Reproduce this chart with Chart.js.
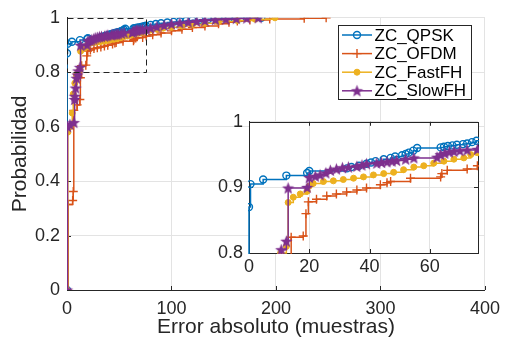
<!DOCTYPE html>
<html>
<head>
<meta charset="utf-8">
<script src="https://cdn.jsdelivr.net/npm/chart.js@4.4.1/dist/chart.umd.min.js"></script>
<style>
  html, body { margin: 0; padding: 0; background: #fff; }
  #wrap { position: relative; width: 508px; height: 343px; }
  #main { position: absolute; left: 0; top: 0; }
  #inset { position: absolute; left: 205px; top: 105px; }
</style>
</head>
<body>
<div id="wrap">
  <canvas id="main" width="508" height="343"></canvas>
  <canvas id="inset" width="290" height="175"></canvas>
</div>
<script>
// CDF of absolute error
var qpskX = [0, 0, 0.5, 4.7, 12.4, 19.3, 20, 32.5, 34, 36.5, 39, 40.5, 42, 44.7, 47, 48.5, 50.8, 52, 53, 54.5, 55.8, 63.6, 64.7, 66, 67.5, 69, 71, 72.4, 74, 75.5, 80, 85, 90, 96, 102, 108, 114, 120, 127, 135, 145, 155, 166, 186];
var qpskY = [0, 0.87, 0.905, 0.912, 0.918, 0.922, 0.925, 0.929, 0.931, 0.933, 0.936, 0.938, 0.94, 0.943, 0.945, 0.947, 0.949, 0.951, 0.953, 0.956, 0.96, 0.961, 0.962, 0.963, 0.964, 0.965, 0.966, 0.967, 0.969, 0.971, 0.974, 0.977, 0.98, 0.983, 0.985, 0.987, 0.989, 0.991, 0.993, 0.995, 0.997, 0.998, 0.999, 1];

var ofdmX = [0, 1.2, 5.4, 6, 6.5, 9.7, 12.3, 12.8, 14, 18, 18.9, 19.7, 22.4, 25.8, 29, 32.4, 35.8, 39, 43.6, 45.8, 47, 53.6, 63.6, 64, 65.8, 72.4, 75.8, 82, 90, 100, 110, 120, 132, 145, 155, 163, 175, 194, 227, 248];
var ofdmY = [0, 0.314, 0.329, 0.362, 0.66, 0.68, 0.70, 0.78, 0.824, 0.826, 0.86, 0.878, 0.882, 0.887, 0.89, 0.893, 0.896, 0.899, 0.904, 0.907, 0.909, 0.914, 0.916, 0.921, 0.926, 0.928, 0.933, 0.938, 0.944, 0.952, 0.958, 0.964, 0.97, 0.978, 0.984, 0.988, 0.992, 0.996, 0.998, 1];

var fastX = [0, 0.8, 3, 5, 6, 7.5, 9, 10.5, 12.4, 13, 14.7, 17, 19.3, 20, 21.3, 24.7, 28, 31.3, 34.7, 38, 41.3, 44.7, 48, 51.3, 54.7, 58, 61.3, 64.7, 68, 71.3, 73.6, 75.8, 80, 86, 92, 100, 110, 120, 132, 145, 163, 180, 199];
var fastY = [0, 0.58, 0.6, 0.65, 0.72, 0.76, 0.79, 0.8, 0.81, 0.877, 0.885, 0.89, 0.894, 0.902, 0.906, 0.909, 0.91, 0.912, 0.914, 0.916, 0.919, 0.921, 0.923, 0.927, 0.931, 0.933, 0.937, 0.94, 0.943, 0.945, 0.95, 0.953, 0.955, 0.958, 0.962, 0.965, 0.97, 0.975, 0.98, 0.986, 0.99, 0.995, 1];

var slowX = [0, 0.5, 2.8, 6.6, 7.3, 7.5, 8.3, 9.1, 10, 10.7, 12.4, 13, 19.3, 20, 22, 23.6, 25.5, 27, 29, 31, 33, 35.8, 37.5, 39, 42.4, 44, 45.8, 47.5, 49, 52, 54.7, 62.4, 63.6, 65, 66.5, 68, 70, 72.4, 75.8, 80, 86, 93, 100, 108, 116, 124, 132, 142, 152, 162, 172, 183];
var slowY = [0, 0.6, 0.608, 0.615, 0.7, 0.712, 0.742, 0.778, 0.79, 0.805, 0.818, 0.899, 0.9, 0.915, 0.917, 0.919, 0.922, 0.926, 0.928, 0.93, 0.931, 0.932, 0.934, 0.936, 0.937, 0.938, 0.939, 0.94, 0.941, 0.943, 0.945, 0.946, 0.95, 0.952, 0.954, 0.955, 0.956, 0.957, 0.958, 0.962, 0.967, 0.972, 0.977, 0.981, 0.984, 0.987, 0.99, 0.993, 0.995, 0.997, 0.999, 1];

var seriesNames = ['ZC_QPSK', 'ZC_OFDM', 'ZC_FastFH', 'ZC_SlowFH'];
var xTicksMain = [0, 100, 200, 300, 400];
var yTicksMain = [0, 0.2, 0.4, 0.6, 0.8, 1];
var xTicksInset = [0, 20, 40, 60];
var yTicksInset = [0.8, 0.9, 1];
var zoomWin = [0, 76, 0.8, 1]; // x0, x1, y0, y1

var FONT = '"Liberation Sans", Arial, Helvetica, sans-serif';
var TXT = '#262626';
var GRID = '#e3e3e3';

function pts(xs, ys) {
  return xs.map(function(x, i) { return {x: x, y: ys[i]}; });
}

function makeStar(color, r) {
  var s = Math.ceil(r * 2 + 2);
  var c = document.createElement('canvas');
  c.width = s; c.height = s;
  var g = c.getContext('2d');
  g.translate(s / 2, s / 2 + 0.5);
  g.beginPath();
  for (var i = 0; i < 10; i++) {
    var rad = i % 2 ? r * 0.42 : r;
    var a = -Math.PI / 2 + i * Math.PI / 5;
    g.lineTo(rad * Math.cos(a), rad * Math.sin(a));
  }
  g.closePath();
  g.fillStyle = color;
  g.fill();
  return c;
}
var starImg = makeStar('#7E2F8E', 6.5);

function buildDatasets(clip) {
  var d = [
    {label: seriesNames[0], data: pts(qpskX, qpskY), borderColor: '#0072BD', pointStyle: 'circle',
     pointRadius: 3.5, pointBorderWidth: 1.4, pointBackgroundColor: 'rgba(0,0,0,0)', pointBorderColor: '#0072BD', order: 3},
    {label: seriesNames[1], data: pts(ofdmX, ofdmY), borderColor: '#D95319', pointStyle: 'cross',
     pointRadius: 4.5, pointBorderWidth: 1.4, pointBackgroundColor: '#D95319', pointBorderColor: '#D95319', order: 2},
    {label: seriesNames[2], data: pts(fastX, fastY), borderColor: '#EDB120', pointStyle: 'circle',
     pointRadius: 3, pointBorderWidth: 1, pointBackgroundColor: '#EDB120', pointBorderColor: '#EDB120', order: 1},
    {label: seriesNames[3], data: pts(slowX, slowY), borderColor: '#7E2F8E', pointStyle: starImg,
     pointRadius: 6, pointBorderWidth: 1, pointBackgroundColor: '#7E2F8E', pointBorderColor: '#7E2F8E', order: 0}
  ];
  d.forEach(function(ds) {
    ds.borderWidth = 1.5;
    ds.stepped = 'before';
    ds.fill = false;
    if (clip !== undefined) ds.clip = clip;
  });
  return d;
}

function keepTicks(list) {
  return function(scale) {
    scale.ticks = list.map(function(v) { return {value: v}; });
  };
}

// MATLAB style inward tick marks (+ box for the inset)
var inTicks = {
  id: 'inTicks',
  beforeDatasetsDraw: function(chart, args, opts) {
    var ctx = chart.ctx, a = chart.chartArea, sx = chart.scales.x, sy = chart.scales.y;
    ctx.save();
    ctx.strokeStyle = TXT;
    ctx.lineWidth = 1;
    ctx.beginPath();
    sx.ticks.forEach(function(t) {
      var px = Math.round(sx.getPixelForValue(t.value)) + 0.5;
      ctx.moveTo(px, a.bottom); ctx.lineTo(px, a.bottom - 4);
      if (opts.box) { ctx.moveTo(px, a.top); ctx.lineTo(px, a.top + 4); }
    });
    sy.ticks.forEach(function(t) {
      var py = Math.round(sy.getPixelForValue(t.value)) + 0.5;
      ctx.moveTo(a.left, py); ctx.lineTo(a.left + 4, py);
      if (opts.box) { ctx.moveTo(a.right, py); ctx.lineTo(a.right - 4, py); }
    });
    ctx.stroke();
    if (opts.box) {
      ctx.strokeRect(Math.round(a.left) + 0.5, Math.round(a.top) + 0.5,
        Math.round(a.right - a.left), Math.round(a.bottom - a.top));
    }
    ctx.restore();
  }
};

var whiteArea = {
  id: 'whiteArea',
  beforeDraw: function(chart) {
    var a = chart.chartArea, ctx = chart.ctx;
    ctx.save();
    ctx.fillStyle = '#fff';
    ctx.fillRect(a.left, a.top, a.right - a.left, a.bottom - a.top);
    ctx.restore();
  }
};

var zoomBox = {
  id: 'zoomBox',
  afterDatasetsDraw: function(chart) {
    var sx = chart.scales.x, sy = chart.scales.y, ctx = chart.ctx;
    var x0 = sx.getPixelForValue(zoomWin[0]), x1 = sx.getPixelForValue(zoomWin[1]);
    var y0 = sy.getPixelForValue(zoomWin[2]), y1 = sy.getPixelForValue(zoomWin[3]);
    ctx.save();
    ctx.strokeStyle = '#222';
    ctx.lineWidth = 1;
    ctx.setLineDash([6, 4]);
    ctx.strokeRect(Math.round(x0) + 0.5, Math.round(y1) + 0.5, Math.round(x1 - x0), Math.round(y0 - y1));
    ctx.restore();
  }
};

function drawMarker(ctx, ds, x, y) {
  ctx.save();
  if (ds.pointStyle === 'circle') {
    ctx.beginPath();
    ctx.arc(x, y, ds.pointRadius, 0, Math.PI * 2);
    ctx.fillStyle = ds.pointBackgroundColor;
    ctx.fill();
    ctx.lineWidth = ds.pointBorderWidth;
    ctx.strokeStyle = ds.pointBorderColor;
    ctx.stroke();
  } else if (ds.pointStyle === 'cross') {
    var r = ds.pointRadius;
    ctx.beginPath();
    ctx.moveTo(x - r, y); ctx.lineTo(x + r, y);
    ctx.moveTo(x, y - r); ctx.lineTo(x, y + r);
    ctx.lineWidth = ds.pointBorderWidth;
    ctx.strokeStyle = ds.pointBorderColor;
    ctx.stroke();
  } else {
    var img = ds.pointStyle;
    ctx.drawImage(img, x - img.width / 2, y - img.height / 2);
  }
  ctx.restore();
}

var legendBox = {
  id: 'legendBox',
  afterDraw: function(chart) {
    var ctx = chart.ctx;
    ctx.save();
    ctx.fillStyle = '#fff';
    ctx.fillRect(338.5, 25.5, 133, 74);
    ctx.strokeStyle = TXT;
    ctx.lineWidth = 1;
    ctx.strokeRect(338.5, 25.5, 133, 74);
    ctx.font = '17px ' + FONT;
    ctx.textBaseline = 'middle';
    chart.data.datasets.forEach(function(ds, i) {
      var y = 35 + i * 18.6;
      ctx.beginPath();
      ctx.moveTo(342, y); ctx.lineTo(372, y);
      ctx.strokeStyle = ds.borderColor;
      ctx.lineWidth = 1.5;
      ctx.stroke();
      drawMarker(ctx, ds, 357, y);
      ctx.fillStyle = '#000';
      ctx.fillText(ds.label, 374.5, y + 1);
    });
    ctx.restore();
  }
};

function fmt(v) {
  return String(Number(v.toFixed(3)));
}

function axisOpts(min, max, ticks, pad) {
  return {
    type: 'linear', min: min, max: max,
    afterBuildTicks: keepTicks(ticks),
    ticks: {font: {size: 18, family: FONT}, color: TXT, padding: pad, callback: fmt},
    grid: {color: GRID, lineWidth: 1, drawTicks: false},
    border: {color: TXT, width: 1}
  };
}

var mx = axisOpts(0, 400, xTicksMain, 8);
mx.afterFit = function(s) { s.height = 53; };
mx.title = {display: true, text: 'Error absoluto (muestras)', font: {size: 21, family: FONT}, color: TXT,
  padding: {top: 0, bottom: 3}};
var my = axisOpts(0, 1, yTicksMain, 7);
my.afterFit = function(s) { s.width = 67; };
my.title = {display: true, text: 'Probabilidad', font: {size: 21, family: FONT}, color: TXT,
  padding: {top: 8, bottom: 0}};

new Chart(document.getElementById('main'), {
  type: 'line',
  data: {datasets: buildDatasets()},
  options: {
    responsive: false, animation: false, events: [],
    layout: {padding: {top: 14, right: 17, left: 0, bottom: 0}},
    scales: {x: mx, y: my},
    plugins: {legend: {display: false}, tooltip: {enabled: false}, inTicks: {box: false}}
  },
  plugins: [inTicks, zoomBox, legendBox]
});

var ix = axisOpts(zoomWin[0], zoomWin[1], xTicksInset, 3);
ix.afterFit = function(s) { s.height = 27; };
var iy = axisOpts(zoomWin[2], zoomWin[3], yTicksInset, 6);
iy.afterFit = function(s) { s.width = 44; };

new Chart(document.getElementById('inset'), {
  type: 'line',
  data: {datasets: buildDatasets(1)},
  options: {
    responsive: false, animation: false, events: [],
    layout: {padding: {top: 11, right: 17, left: 0, bottom: 0}},
    scales: {x: ix, y: iy},
    plugins: {legend: {display: false}, tooltip: {enabled: false}, inTicks: {box: true}}
  },
  plugins: [whiteArea, inTicks]
});
</script>
</body>
</html>
